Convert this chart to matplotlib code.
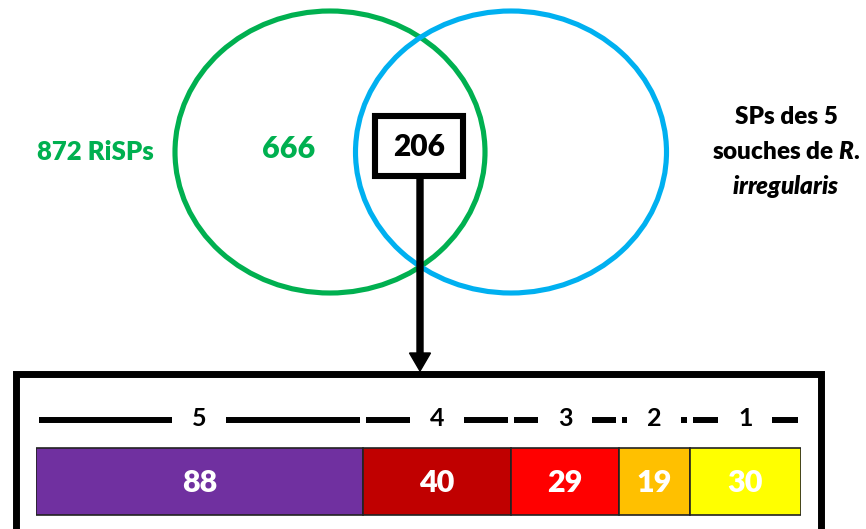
import matplotlib
matplotlib.use("Agg")
import matplotlib.pyplot as plt
from matplotlib.patches import Ellipse, Rectangle
import numpy as np

plt.rcParams['font.family'] = ['Lato', 'DejaVu Sans']
plt.rcParams['mathtext.fontset'] = 'custom'
plt.rcParams['mathtext.it'] = 'Lato:italic:heavy'
plt.rcParams['mathtext.rm'] = 'Lato:heavy'

# donnees
total_risps = 872
only_risps = 666
shared = 206
souches = ["5", "4", "3", "2", "1"]
counts = [88, 40, 29, 19, 30]
couleurs = ["#7030A0", "#C00000", "#FF0000", "#FFC000", "#FFFF00"]

vert = "#00B050"
bleu = "#00B0F0"
poids = "heavy"

fig = plt.figure(figsize=(8.66, 5.29), dpi=100)
ax = fig.add_axes([0, 0, 1, 1])
ax.set_xlim(0, 866)
ax.set_ylim(529, 0)
ax.axis("off")

# venn
ax.add_patch(Ellipse((330, 152), 310, 282, fill=False, ec=vert, lw=3.7))
ax.add_patch(Ellipse((511, 152), 311, 282, fill=False, ec=bleu, lw=3.7))
ax.text(95, 152, "{} RiSPs".format(total_risps), color=vert, fontsize=18.5,
        fontweight=poids, ha="center", va="center")
ax.text(289, 149, str(only_risps), color=vert, fontsize=22,
        fontweight=poids, ha="center", va="center")
ax.text(786, 117, "SPs des 5", fontsize=17.5, fontweight=poids,
        ha="center", va="center")
ax.text(786, 152, "souches de $R.$", fontsize=17.5, fontweight=poids,
        ha="center", va="center")
ax.text(786, 186, "$irregularis$", fontsize=17.5, fontweight=poids,
        ha="center", va="center")

# boite 206 + fleche
ax.add_patch(Rectangle((375, 116), 88, 60, fc="white", ec="black", lw=4.4))
ax.text(419, 147, str(shared), fontsize=21.5, fontweight=poids,
        ha="center", va="center")
ax.arrow(420, 179, 0, 192, width=6, head_width=21, head_length=18,
         length_includes_head=True, color="black")

# cadre du bas
ax.add_patch(Rectangle((15.5, 373.5), 805, 170, fc="white", ec="black",
                       lw=5, clip_on=False))

# barre empilee
bx = fig.add_axes([36 / 866, 0, (801 - 36) / 866, 1])
bx.set_xlim(0, sum(counts))
bx.set_ylim(529, 0)
bx.axis("off")
lefts = np.concatenate([[0], np.cumsum(counts)[:-1]])
bx.barh(481.5, counts, left=lefts, height=67, color=couleurs,
        edgecolor="#222222", lw=1.2)
px = sum(counts) / (801 - 36)
for l, c, s in zip(lefts, counts, souches):
    mid = l + c / 2
    bx.text(mid, 483, str(c), color="white", fontsize=22, fontweight=poids,
            ha="center", va="center")
    bx.text(mid, 418, s, fontsize=18, fontweight="bold", ha="center",
            va="center")
    gap = 27 * px
    bord = 3 * px
    bx.plot([l + bord, mid - gap], [420, 420], color="black", lw=4.3,
            solid_capstyle="butt")
    bx.plot([mid + gap, l + c - bord], [420, 420], color="black", lw=4.3,
            solid_capstyle="butt")

fig.savefig("out.png", dpi=100)
